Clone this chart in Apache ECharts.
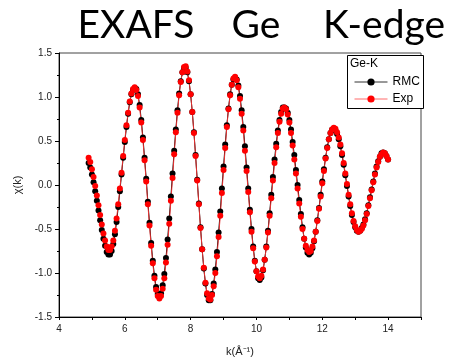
<!DOCTYPE html>
<html>
<head>
<meta charset="utf-8">
<script src="https://cdn.jsdelivr.net/npm/echarts@6/dist/echarts.min.js"></script>
<style>
html, body { margin: 0; padding: 0; background: #fff; }
#chart { width: 452px; height: 362px; }
</style>
</head>
<body>
<div id="chart"></div>
<script>
// k grid (A^-1)
const kValues = [
  4.90,4.95,5.00,5.05,5.10,5.15,5.20,5.25,5.30,5.35,
  5.40,5.45,5.50,5.55,5.60,5.65,5.70,5.75,5.80,5.85,
  5.90,5.95,6.00,6.05,6.10,6.15,6.20,6.25,6.30,6.35,
  6.40,6.45,6.50,6.55,6.60,6.65,6.70,6.75,6.80,6.85,
  6.90,6.95,7.00,7.05,7.10,7.15,7.20,7.25,7.30,7.35,
  7.40,7.45,7.50,7.55,7.60,7.65,7.70,7.75,7.80,7.85,
  7.90,7.95,8.00,8.05,8.10,8.15,8.20,8.25,8.30,8.35,
  8.40,8.45,8.50,8.55,8.60,8.65,8.70,8.75,8.80,8.85,
  8.90,8.95,9.00,9.05,9.10,9.15,9.20,9.25,9.30,9.35,
  9.40,9.45,9.50,9.55,9.60,9.65,9.70,9.75,9.80,9.85,
  9.90,9.95,10.00,10.05,10.10,10.15,10.20,10.25,10.30,10.35,
  10.40,10.45,10.50,10.55,10.60,10.65,10.70,10.75,10.80,10.85,
  10.90,10.95,11.00,11.05,11.10,11.15,11.20,11.25,11.30,11.35,
  11.40,11.45,11.50,11.55,11.60,11.65,11.70,11.75,11.80,11.85,
  11.90,11.95,12.00,12.05,12.10,12.15,12.20,12.25,12.30,12.35,
  12.40,12.45,12.50,12.55,12.60,12.65,12.70,12.75,12.80,12.85,
  12.90,12.95,13.00,13.05,13.10,13.15,13.20,13.25,13.30,13.35,
  13.40,13.45,13.50,13.55,13.60,13.65,13.70,13.75,13.80,13.85,
  13.90,13.95,14.00
];

// RMC fit chi(k)
const rmcValues = [
  0.25,0.20,0.12,0.03,-0.07,-0.18,-0.29,-0.40,-0.51,-0.61,
  -0.69,-0.76,-0.79,-0.79,-0.75,-0.67,-0.56,-0.42,-0.25,-0.07,
  0.12,0.31,0.49,0.66,0.81,0.94,1.03,1.08,1.10,1.09,
  1.03,0.91,0.74,0.54,0.31,0.07,-0.19,-0.43,-0.66,-0.86,
  -1.03,-1.16,-1.24,-1.27,-1.23,-1.14,-1.01,-0.83,-0.62,-0.38,
  -0.13,0.13,0.39,0.63,0.85,1.04,1.18,1.28,1.33,1.33,
  1.28,1.18,1.03,0.83,0.60,0.34,0.06,-0.21,-0.48,-0.73,
  -0.95,-1.12,-1.25,-1.31,-1.31,-1.24,-1.12,-0.96,-0.76,-0.54,
  -0.30,-0.04,0.21,0.46,0.68,0.87,1.03,1.14,1.20,1.22,
  1.20,1.13,1.01,0.85,0.66,0.44,0.20,-0.04,-0.28,-0.50,
  -0.70,-0.86,-0.98,-1.06,-1.08,-1.05,-0.97,-0.85,-0.70,-0.52,
  -0.32,-0.11,0.09,0.29,0.47,0.62,0.74,0.83,0.88,0.88,
  0.87,0.82,0.74,0.63,0.49,0.34,0.17,0.00,-0.17,-0.33,
  -0.48,-0.61,-0.71,-0.77,-0.79,-0.77,-0.72,-0.64,-0.53,-0.40,
  -0.26,-0.11,0.04,0.18,0.31,0.43,0.52,0.59,0.63,0.64,
  0.62,0.58,0.52,0.44,0.34,0.23,0.11,-0.01,-0.13,-0.24,
  -0.34,-0.42,-0.48,-0.52,-0.53,-0.52,-0.49,-0.45,-0.39,-0.32,
  -0.23,-0.14,-0.05,0.04,0.13,0.21,0.27,0.32,0.36,0.37,
  0.36,0.33,0.29
];

// experimental chi(k)
const expValues = [
  0.31,0.26,0.18,0.09,-0.01,-0.12,-0.23,-0.34,-0.45,-0.55,
  -0.63,-0.70,-0.74,-0.74,-0.70,-0.63,-0.52,-0.38,-0.22,-0.04,
  0.14,0.33,0.51,0.68,0.82,0.95,1.04,1.09,1.11,1.08,
  1.01,0.88,0.71,0.51,0.28,0.04,-0.22,-0.46,-0.69,-0.89,
  -1.06,-1.19,-1.26,-1.29,-1.26,-1.18,-1.06,-0.88,-0.68,-0.44,
  -0.18,0.08,0.35,0.60,0.82,1.02,1.17,1.28,1.34,1.35,
  1.29,1.19,1.03,0.83,0.59,0.33,0.05,-0.22,-0.49,-0.73,
  -0.94,-1.11,-1.23,-1.29,-1.30,-1.25,-1.15,-1.00,-0.81,-0.59,
  -0.35,-0.09,0.17,0.42,0.66,0.86,1.02,1.14,1.21,1.23,
  1.19,1.11,0.98,0.81,0.62,0.39,0.16,-0.08,-0.31,-0.53,
  -0.72,-0.87,-0.98,-1.04,-1.06,-1.03,-0.96,-0.85,-0.71,-0.54,
  -0.35,-0.15,0.05,0.25,0.43,0.59,0.72,0.81,0.87,0.88,
  0.86,0.80,0.71,0.59,0.45,0.29,0.13,-0.04,-0.21,-0.36,
  -0.50,-0.61,-0.69,-0.74,-0.76,-0.75,-0.70,-0.63,-0.53,-0.41,
  -0.27,-0.13,0.02,0.16,0.30,0.42,0.52,0.59,0.63,0.65,
  0.64,0.60,0.54,0.46,0.36,0.25,0.13,0.01,-0.11,-0.22,
  -0.32,-0.41,-0.47,-0.51,-0.53,-0.52,-0.50,-0.46,-0.40,-0.33,
  -0.24,-0.15,-0.06,0.03,0.12,0.20,0.26,0.32,0.35,0.37,
  0.36,0.33,0.29
];

const seriesNames = ['RMC', 'Exp'];
const titleWords = ['EXAFS', 'Ge', 'K-edge'];

const chart = echarts.init(document.getElementById('chart'));

const rmcData = kValues.map((k, i) => [k, rmcValues[i]]);
const expData = kValues.map((k, i) => [k, expValues[i]]);

const axisFont = { fontFamily: 'Liberation Sans, Arial', fontSize: 10, color: '#222' };
const titleStyle = { fontFamily: 'Lato', fontSize: 39, fill: '#000' };

const option = {
    animation: false,
    backgroundColor: '#fff',
    grid: {
        left: 59,
        right: 31,
        top: 53,
        bottom: 42,
        show: true,
        borderColor: '#444',
        borderWidth: 1
    },
    legend: {
        data: [
            { name: seriesNames[0], lineStyle: { width: 1, color: '#333' } },
            { name: seriesNames[1], lineStyle: { width: 1, color: '#ff6a6a' } }
        ],
        orient: 'vertical',
        left: 349,
        top: 71,
        z: 20,
        itemWidth: 33,
        itemHeight: 9,
        itemGap: 5,
        textStyle: { fontFamily: 'Liberation Sans, Arial', fontSize: 12, color: '#000' }
    },
    graphic: [
        // title words, spaced like the original slide
        { type: 'text', x: 136, y: 6, style: Object.assign({ text: titleWords[0], align: 'center' }, titleStyle) },
        { type: 'text', x: 256, y: 6, style: Object.assign({ text: titleWords[1], align: 'center' }, titleStyle) },
        { type: 'text', x: 384, y: 6, style: Object.assign({ text: titleWords[2], align: 'center' }, titleStyle) },
        {
            type: 'rect',
            left: 347,
            top: 55,
            z: 5,
            shape: { width: 76, height: 53 },
            style: { fill: '#fff', stroke: '#000', lineWidth: 1 }
        },
        {
            type: 'text',
            left: 350,
            top: 58,
            z: 6,
            style: { text: 'Ge-K', fontFamily: 'Liberation Sans, Arial', fontSize: 12, fill: '#000' }
        }
    ],
    xAxis: {
        type: 'value',
        min: 4,
        max: 15,
        interval: 1,
        name: 'k(Å⁻¹)',
        nameLocation: 'middle',
        nameGap: 29,
        nameTextStyle: { fontFamily: 'Liberation Sans, Arial', fontSize: 11, color: '#222' },
        axisLine: { onZero: false, lineStyle: { color: '#000' } },
        axisTick: { length: 3, lineStyle: { color: '#000' } },
        axisLabel: Object.assign({}, axisFont, {
            margin: 7,
            formatter: v => (v % 2 === 0 && v < 15 ? String(v) : '')
        }),
        splitLine: { show: false }
    },
    yAxis: {
        type: 'value',
        min: -1.5,
        max: 1.5,
        interval: 0.5,
        name: 'χ(k)',
        nameLocation: 'middle',
        nameGap: 28,
        nameTextStyle: { fontFamily: 'Liberation Sans, Arial', fontSize: 11, color: '#222' },
        axisLine: { show: true, onZero: false, lineStyle: { color: '#000' } },
        axisTick: { show: true, length: 4, lineStyle: { color: '#000' } },
        minorTick: { show: true, splitNumber: 2, length: 2, lineStyle: { color: '#000' } },
        axisLabel: Object.assign({}, axisFont, {
            margin: 7,
            formatter: v => v.toFixed(1)
        }),
        splitLine: { show: false }
    },
    series: [
        {
            name: 'RMC',
            type: 'line',
            data: rmcData,
            symbol: 'circle',
            symbolSize: 6,
            showAllSymbol: true,
            itemStyle: { color: '#000' },
            lineStyle: { color: '#000', width: 1 }
        },
        {
            name: 'Exp',
            type: 'line',
            data: expData,
            symbol: 'circle',
            symbolSize: 6,
            showAllSymbol: true,
            itemStyle: { color: '#ff0000' },
            lineStyle: { color: '#e83030', width: 1 }
        }
    ]
};

chart.setOption(option);
</script>
</body>
</html>
